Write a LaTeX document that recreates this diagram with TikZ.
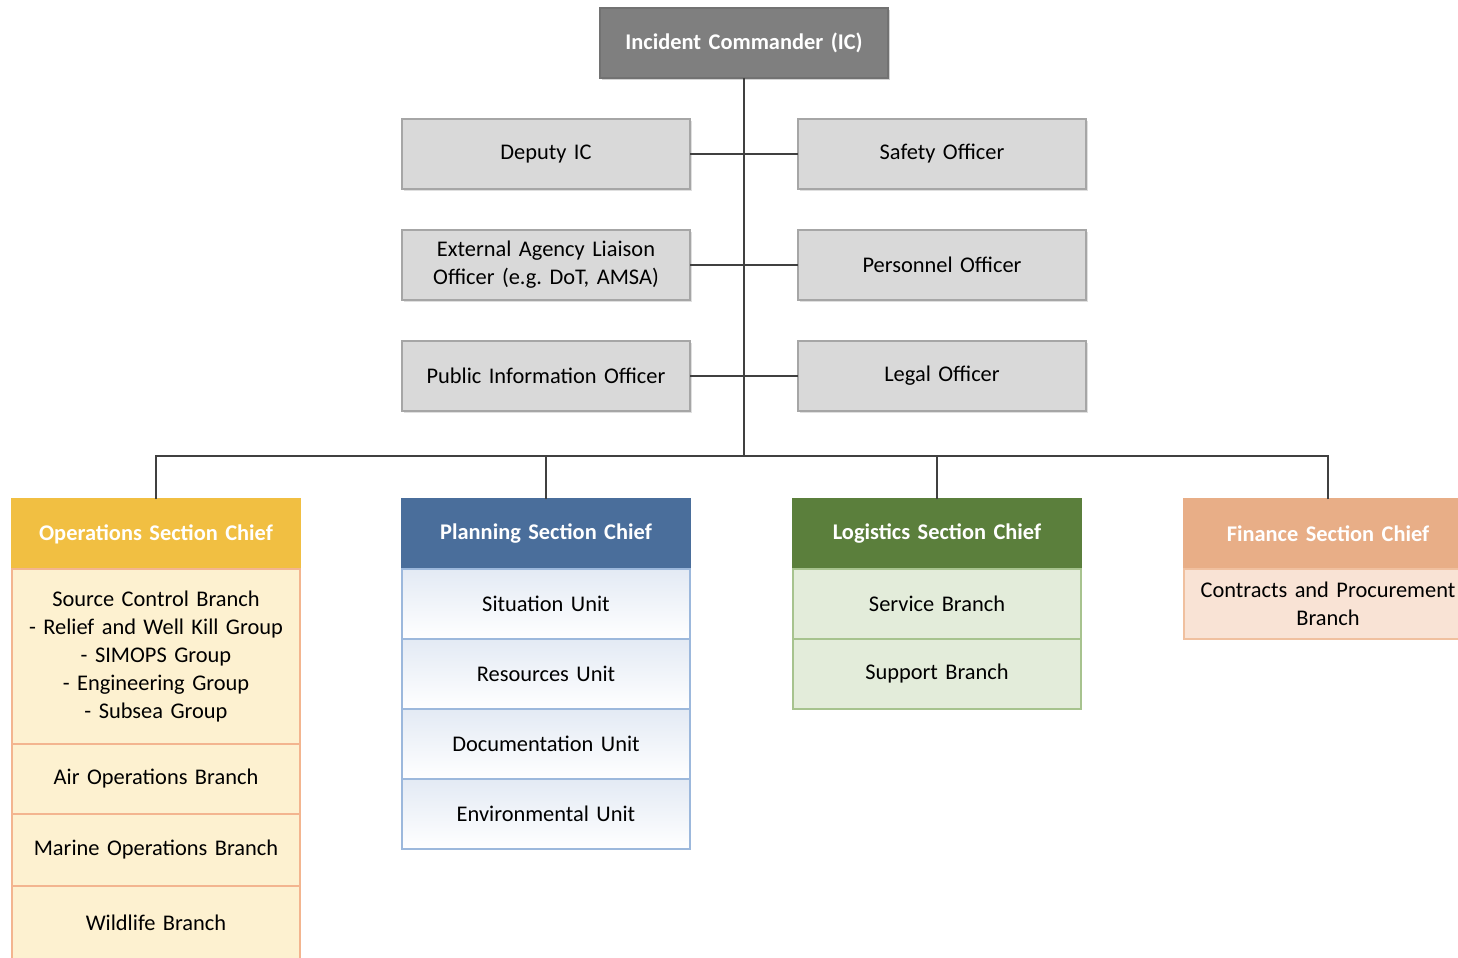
\documentclass[tikz,border=0pt]{standalone}
\usepackage{fontspec}
\setmainfont{Carlito}
\usetikzlibrary{positioning, shadows}
\frenchspacing
\definecolor{icfill}{HTML}{7F7F7F}
\definecolor{stafffill}{HTML}{D9D9D9}
\definecolor{staffline}{HTML}{A6A6A6}
\definecolor{opshead}{HTML}{F1BF42}
\definecolor{opsbody}{HTML}{FDF1D0}
\definecolor{opsline}{HTML}{F3B58F}
\definecolor{planhead}{HTML}{4A6E9B}
\definecolor{planbody}{HTML}{E3EAF4}
\definecolor{planline}{HTML}{9CB8DC}
\definecolor{loghead}{HTML}{5B7F3C}
\definecolor{logbody}{HTML}{E3ECDA}
\definecolor{logline}{HTML}{A7C38E}
\definecolor{finhead}{HTML}{E8AE87}
\definecolor{finbody}{HTML}{F9E3D5}
\definecolor{finline}{HTML}{F0C09F}
\definecolor{linkgray}{HTML}{404040}

\begin{document}
\begin{tikzpicture}[x=0.5pt, y=-0.5pt,
  base/.style={draw, rectangle, outer sep=0pt, inner sep=2pt, align=center,
               font=\fontsize{11.2}{14}\selectfont, minimum width=144pt,
               text width=140pt, minimum height=35pt, line width=0.7pt},
  staff/.style={base, fill=stafffill, draw=staffline,
                drop shadow={opacity=0.25, shadow xshift=0.8pt, shadow yshift=-0.8pt}},
  chief/.style={base, font=\fontsize{11.2}{14}\selectfont\bfseries, text=white},
  ops/.style={base, fill=opsbody, draw=opsline},
  plan/.style={base, top color=planbody, bottom color=white, draw=planline},
  logi/.style={base, fill=logbody, draw=logline},
  fin/.style={base, fill=finbody, draw=finline},
  link/.style={draw=linkgray, line width=0.8pt}
]
  \useasboundingbox (0,0) rectangle (1458,958);
  \clip (0,0) rectangle (1458,958);

  % command and staff
  \node[chief, fill=icfill, draw=icfill!90!black,
        drop shadow={opacity=0.35, shadow xshift=1pt, shadow yshift=-1.2pt}] (ic) at (744,43) {Incident Commander (IC)};
  \node[staff] (dep) at (546,154) {Deputy IC};
  \node[staff] (saf) at (942,154) {Safety Officer};
  \node[staff] (ext) at (546,265) {External Agency Liaison\\Officer (e.g. DoT, AMSA)};
  \node[staff] (per) at (942,265) {Personnel Officer};
  \node[staff] (pub) at (546,376) {Public Information Officer};
  \node[staff] (leg) at (942,376) {Legal Officer};
  \coordinate (hub) at (744,456);

  % operations
  \node[chief, fill=opshead, draw=opshead] (opsh) at (156,534) {Operations Section Chief};
  \node[ops, minimum height=87.5pt, below=0pt of opsh] (src) {Source Control Branch\\
    - Relief and Well Kill Group\\- SIMOPS Group\\- Engineering Group\\- Subsea Group};
  \node[ops, below=0pt of src] (air) {Air Operations Branch};
  \node[ops, minimum height=36pt, below=0pt of air] (mar) {Marine Operations Branch};
  \node[ops, minimum height=37pt, below=0pt of mar] (wild) {Wildlife Branch};

  % planning
  \node[chief, fill=planhead, draw=planhead] (planh) at (546,534) {Planning Section Chief};
  \node[plan, below=0pt of planh] (sit) {Situation Unit};
  \node[plan, below=0pt of sit] (res) {Resources Unit};
  \node[plan, below=0pt of res] (doc) {Documentation Unit};
  \node[plan, below=0pt of doc] (env) {Environmental Unit};

  % logistics
  \node[chief, fill=loghead, draw=loghead] (logh) at (937,534) {Logistics Section Chief};
  \node[logi, below=0pt of logh] (serv) {Service Branch};
  \node[logi, below=0pt of serv] (supp) {Support Branch};

  % finance
  \node[chief, fill=finhead, draw=finhead] (finh) at (1328,534) {Finance Section Chief};
  \node[fin, below=0pt of finh] (cont) {Contracts and Procurement\\Branch};

  % connectors
  \draw[link] (ic.south) -- (hub);
  \draw[link] (dep.east) -- (saf.west);
  \draw[link] (ext.east) -- (per.west);
  \draw[link] (pub.east) -- (leg.west);
  \draw[link] (opsh.north) |- (hub);
  \draw[link] (planh.north) |- (hub);
  \draw[link] (logh.north) |- (hub);
  \draw[link] (finh.north) |- (hub);
\end{tikzpicture}
\end{document}
